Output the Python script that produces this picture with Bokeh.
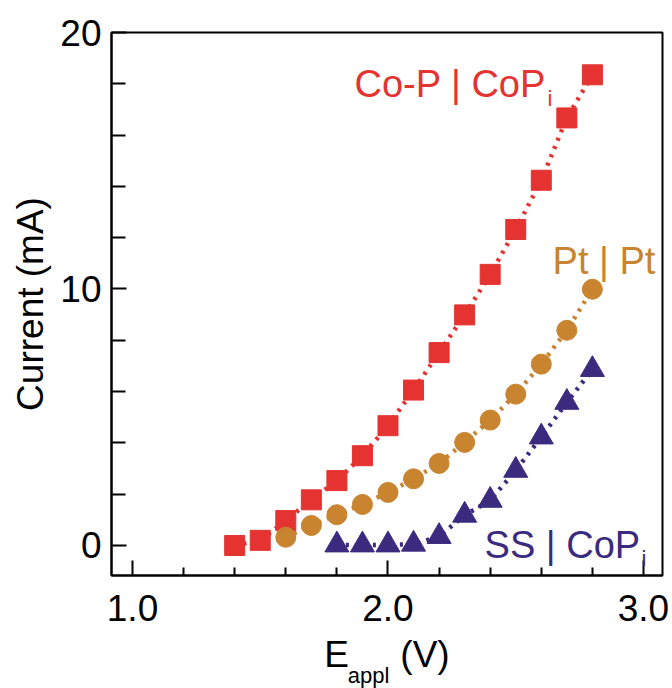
from bokeh.plotting import figure
from bokeh.models import Label, FixedTicker, LinearAxis
from bokeh.embed import file_html
from bokeh.resources import INLINE

# ---- data ----
cop_x = [1.4, 1.5, 1.6, 1.7, 1.8, 1.9, 2.0, 2.1, 2.2, 2.3, 2.4, 2.5, 2.6, 2.7, 2.8]
cop_y = [0.0, 0.2, 0.97, 1.78, 2.53, 3.5, 4.67, 6.06, 7.52, 8.99, 10.57, 12.32, 14.24, 16.67, 18.35]

pt_x = [1.6, 1.7, 1.8, 1.9, 2.0, 2.1, 2.2, 2.3, 2.4, 2.5, 2.6, 2.7, 2.8]
pt_y = [0.32, 0.78, 1.2, 1.6, 2.07, 2.6, 3.2, 4.02, 4.89, 5.9, 7.07, 8.39, 9.99]

ss_x = [1.8, 1.9, 2.0, 2.1, 2.2, 2.3, 2.4, 2.5, 2.6, 2.7, 2.8]
ss_y = [0.02, 0.02, 0.02, 0.05, 0.35, 1.18, 1.76, 2.93, 4.23, 5.58, 6.86]

x_major = [1.0, 2.0, 3.0]
x_minor = [1.2, 1.4, 1.6, 1.8, 2.2, 2.4, 2.6, 2.8]
y_major = [0, 10, 20]
y_minor = [2, 4, 6, 8, 12, 14, 16, 18]
x_tick_labels = {1.0: "1.0", 2.0: "2.0", 3.0: "3.0"}
y_tick_labels = {0: "0", 10: "10", 20: "20"}

RED = "#E43330"
ORANGE = "#C8842F"
NAVY = "#3A2B7F"
FONT = "Liberation Sans"
NB = "\u00a0"

p = figure(frame_width=551, frame_height=543, x_range=(0.9178, 3.0744), y_range=(-1.17, 20.0),
           output_backend="svg", toolbar_location=None,
           min_border_left=111, min_border_right=10, min_border_top=32, min_border_bottom=0)
p.xgrid.visible = False
p.ygrid.visible = False
p.outline_line_color = "black"
p.outline_line_width = 2
p.background_fill_color = "white"
p.border_fill_color = "white"

for ax in (p.xaxis[0], p.yaxis[0]):
    ax.axis_line_width = 2
    ax.axis_line_color = "black"
    ax.major_tick_line_width = 2
    ax.minor_tick_line_width = 2
    ax.major_tick_out = 0
    ax.minor_tick_out = 0
    ax.major_label_text_font = FONT
    ax.major_label_text_font_size = "37px"
    ax.major_label_text_color = "black"
    ax.axis_label_text_font = FONT
    ax.axis_label_text_font_size = "37px"
    ax.axis_label_text_font_style = "normal"
    ax.axis_label_text_color = "black"

p.xaxis[0].ticker = FixedTicker(ticks=x_major, minor_ticks=x_minor)
p.yaxis[0].ticker = FixedTicker(ticks=y_major, minor_ticks=y_minor)
p.xaxis[0].major_label_overrides = x_tick_labels
p.yaxis[0].major_label_overrides = y_tick_labels
p.xaxis[0].major_tick_in = 15
p.xaxis[0].minor_tick_in = 8
p.yaxis[0].major_tick_in = 15
p.yaxis[0].minor_tick_in = 14
p.xaxis[0].major_label_standoff = 19
p.yaxis[0].major_label_standoff = 10

# axis titles
p.yaxis[0].axis_label = "Current (mA)"
p.yaxis[0].axis_label_standoff = 6
p.xaxis[0].axis_label = "E" + NB * 5 + "(V)"
p.xaxis[0].axis_label_standoff = 10

sub_axis = LinearAxis(axis_label="appl" + NB * 6, ticker=FixedTicker(ticks=[]),
                      axis_line_color=None, major_tick_line_color=None,
                      minor_tick_line_color=None, major_label_text_font_size="0px",
                      major_label_standoff=0, major_tick_in=0, major_tick_out=0,
                      minor_tick_in=0, minor_tick_out=0,
                      axis_label_text_font=FONT, axis_label_text_font_size="22px",
                      axis_label_text_font_style="normal", axis_label_text_color="black",
                      axis_label_standoff=-15)
p.add_layout(sub_axis, "below")

# dotted connecting lines
p.line(cop_x, cop_y, line_color=RED, line_width=4.5, line_dash="3 6")
p.line(pt_x, pt_y, line_color=ORANGE, line_width=4.5, line_dash="3 6")
p.line(ss_x, ss_y, line_color=NAVY, line_width=4.5, line_dash="3 6")

# markers
p.scatter(cop_x, cop_y, marker="square", size=20, fill_color=RED, line_color=RED)
p.scatter(pt_x, pt_y, marker="circle", size=20, fill_color=ORANGE, line_color=ORANGE)
p.scatter(ss_x, ss_y, marker="triangle", size=24, fill_color=NAVY, line_color=NAVY)

def lab(text, x, y, color, size):
    p.add_layout(Label(x=x, y=y, text=text, text_color=color, text_font=FONT,
                       text_font_size=size, text_align="left",
                       text_baseline="alphabetic"))

# series labels
lab("Co-P | CoP", 1.869, 18.01, RED, "38px")
lab("i", 2.624, 17.43, RED, "22px")
lab("Pt | Pt", 2.644, 11.11, ORANGE, "38px")
lab("SS | CoP", 2.378, 0.0, NAVY, "38px")
lab("i", 2.992, -0.51, NAVY, "22px")

open("out.html", "w").write(file_html(p, INLINE))
